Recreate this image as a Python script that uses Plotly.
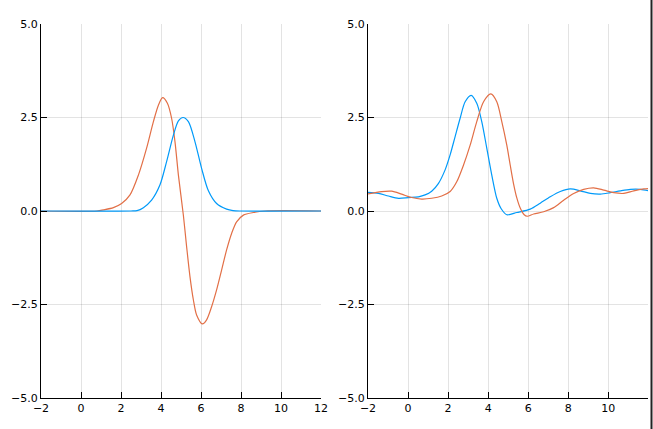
import plotly.graph_objects as go

# ---- data ----
left_blue_x = [-2, 2.5, 2.8, 3.12, 3.53, 3.95, 4.28, 4.62, 4.87, 5.1, 5.37, 5.7, 6.03, 6.37, 6.78, 7.28, 7.6, 8.0, 12]
left_blue_y = [0, 0, 0.01, 0.09, 0.29, 0.7, 1.32, 2.03, 2.41, 2.5, 2.39, 1.85, 1.14, 0.54, 0.2, 0.05, 0.01, 0, 0]

left_orange_x = [-2, 0.8, 1.12, 1.62, 2.03, 2.45, 2.87, 3.28, 3.62, 3.87, 4.08, 4.32, 4.53, 4.7, 4.87,
                 5.12, 5.28, 5.45, 5.62, 5.78, 6.07, 6.28, 6.53, 6.78, 7.03, 7.28, 7.53, 7.78, 8.12, 8.62, 9.2, 12]
left_orange_y = [0, 0, 0.03, 0.09, 0.2, 0.43, 0.96, 1.68, 2.39, 2.83, 3.03, 2.88, 2.48, 1.85, 0.96,
                 -0.12, -0.95, -1.76, -2.38, -2.78, -3.02, -2.91, -2.56, -2.11, -1.58, -1.04, -0.6, -0.29, -0.11, -0.04, 0, 0]

right_blue_x = [-2, -1.48, -0.98, -0.48, 0.02, 0.52, 0.85, 1.18, 1.52, 1.85, 2.1, 2.35, 2.6, 2.85, 3.15,
                3.43, 3.68, 3.93, 4.18, 4.43, 4.65, 4.93, 5.43, 6.1, 6.6, 7.1, 7.6, 8.1, 8.6, 9.1, 9.6,
                10.1, 10.6, 11.1, 11.6, 12.0]
right_blue_y = [0.5, 0.47, 0.4, 0.34, 0.36, 0.38, 0.43, 0.53, 0.74, 1.1, 1.5, 1.99, 2.48, 2.92, 3.09,
                2.88, 2.39, 1.68, 0.96, 0.34, 0.06, -0.1, -0.04, 0.05, 0.21, 0.38, 0.52, 0.59, 0.54, 0.47, 0.45,
                0.49, 0.54, 0.58, 0.58, 0.54]

right_orange_x = [-2, -1.32, -0.82, -0.32, 0.18, 0.68, 1.18, 1.68, 2.1, 2.43, 2.77, 3.1, 3.43, 3.77, 4.13,
                  4.43, 4.68, 4.93, 5.1, 5.27, 5.43, 5.6, 5.8, 5.95, 6.27, 6.77, 7.27, 7.77, 8.27, 8.77,
                  9.27, 9.77, 10.27, 10.77, 11.27, 11.77, 12.0]
right_orange_y = [0.46, 0.52, 0.53, 0.45, 0.36, 0.32, 0.34, 0.4, 0.52, 0.78, 1.23, 1.76, 2.39, 2.92, 3.13,
                  2.92, 2.39, 1.76, 1.23, 0.72, 0.35, 0.08, -0.1, -0.14, -0.08, -0.02, 0.09, 0.29, 0.47, 0.58,
                  0.62, 0.56, 0.49, 0.47, 0.54, 0.59, 0.6]

y_ticks = [-5, -2.5, 0, 2.5, 5]
x_ticks = [-2, 0, 2, 4, 6, 8, 10, 12]

BLUE = "#009AF9"
ORANGE = "#E26F46"

fig = go.Figure()
line_kw = dict(width=1.2, shape="spline", smoothing=0.8)
fig.add_trace(go.Scatter(x=left_orange_x, y=left_orange_y, mode="lines",
                         line=dict(color=ORANGE, **line_kw), xaxis="x", yaxis="y"))
fig.add_trace(go.Scatter(x=left_blue_x, y=left_blue_y, mode="lines",
                         line=dict(color=BLUE, **line_kw), xaxis="x", yaxis="y"))
fig.add_trace(go.Scatter(x=right_blue_x, y=right_blue_y, mode="lines",
                         line=dict(color=BLUE, **line_kw), xaxis="x2", yaxis="y2"))
fig.add_trace(go.Scatter(x=right_orange_x, y=right_orange_y, mode="lines",
                         line=dict(color=ORANGE, **line_kw), xaxis="x2", yaxis="y2"))

# figure fills the whole 653x429 page (body margin removed in post_script)
W, H = 653, 429
ml, mr, mt, mb = 41, 5, 24, 31
pw = W - ml - mr
ph = H - mt - mb
d1 = [0, 280 / pw]
d2 = [327 / pw, 1]

axis_common = dict(
    showline=True, linecolor="black", linewidth=1.2,
    ticks="inside", ticklen=6, tickwidth=1.2, tickcolor="black",
    showgrid=True, gridcolor="rgba(0,0,0,0.11)", gridwidth=1,
    zeroline=False, mirror=False, automargin=False,
    tickfont=dict(family="DejaVu Sans", size=11, color="black"),
)

edge_x = (651.5 - ml) / pw

fig.update_layout(
    width=W, height=H, autosize=False,
    margin=dict(l=ml, r=mr, t=mt, b=mb, pad=0, autoexpand=False),
    paper_bgcolor="white", plot_bgcolor="white",
    showlegend=False,
    xaxis=dict(domain=d1, range=[-2, 12], tickvals=x_ticks, anchor="y", **axis_common),
    yaxis=dict(domain=[0, 1], range=[-5, 5], tickvals=y_ticks, tickformat=".1f", anchor="x", **axis_common),
    xaxis2=dict(domain=d2, range=[-2, 11.98], tickvals=x_ticks, anchor="y2", **axis_common),
    yaxis2=dict(domain=[0, 1], range=[-5, 5], tickvals=y_ticks, tickformat=".1f", anchor="x2", **axis_common),
    shapes=[dict(type="line", xref="paper", yref="paper",
                 x0=edge_x, x1=edge_x, y0=-mb / ph, y1=1 + mt / ph,
                 line=dict(color="#222222", width=2))],
)

post = ("document.documentElement.style.margin='0';document.documentElement.style.overflow='hidden';"
        "document.body.style.margin='0';document.body.style.overflow='hidden';")
fig.write_html("out.html", config={"responsive": False, "displayModeBar": False}, post_script=post)
